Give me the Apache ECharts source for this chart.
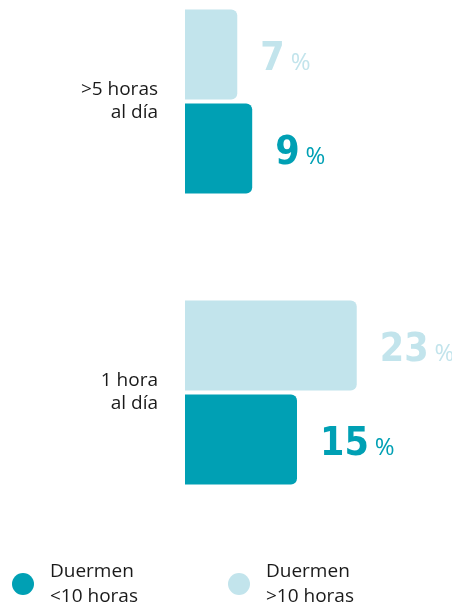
<!DOCTYPE html>
<html><head><meta charset="utf-8">
<script src="https://cdn.jsdelivr.net/npm/echarts@6/dist/echarts.min.js"></script>
<style>html,body{margin:0;padding:0;background:#fff}#c{width:452px;height:609px}</style>
</head><body><div id="c"></div>
<script>
var categories = ['>5 horas\nal día', '1 hora\nal día'];
var seriesNames = ['Duermen\n<10 horas', 'Duermen\n>10 horas'];
var under10 = [9, 15];
var over10 = [7, 23];
var colors = ['#00a0b4', '#c2e4ec'];

var chart = echarts.init(document.getElementById('c'));
function lbl(color){
  return {
    show: true, position: 'right', distance: 23, offset: [0, 3],
    formatter: '{n|{c}}{p|%}',
    rich: {
      n: {fontFamily: 'DejaVu Sans Condensed', fontWeight: 'bold', fontSize: 39, lineHeight: 44, color: color, verticalAlign: 'bottom'},
      p: {fontFamily: 'Open Sans', fontSize: 24, lineHeight: 36, color: color, verticalAlign: 'bottom', padding: [0, 0, 4, 6]}
    }
  };
}
chart.setOption({
  animation: false,
  grid: {left: 185, right: 43, top: -44, height: 582, outerBoundsMode: 'none', containLabel: false},
  xAxis: {type: 'value', min: 0, max: 30, show: false},
  yAxis: {type: 'category', data: categories, inverse: true,
    axisLine: {show: false}, axisTick: {show: false},
    axisLabel: {margin: 27, fontFamily: 'Open Sans', fontSize: 19, lineHeight: 23, color: '#1a1a1a', align: 'right'}},
  legend: [
    {data: [seriesNames[0]], left: 12, top: 559, padding: 0, icon: 'circle', itemWidth: 22, itemHeight: 22,
     textStyle: {fontFamily: 'Open Sans', fontSize: 19, lineHeight: 25, color: '#1a1a1a', padding: [0,0,0,11]}},
    {data: [seriesNames[1]], left: 228, top: 559, padding: 0, icon: 'circle', itemWidth: 22, itemHeight: 22,
     textStyle: {fontFamily: 'Open Sans', fontSize: 19, lineHeight: 25, color: '#1a1a1a', padding: [0,0,0,11]}}
  ],
  series: [
    {name: seriesNames[1], type: 'bar', data: over10, barWidth: 90, barGap: '4.4%',
     itemStyle: {color: colors[1], borderRadius: [0,6,6,0]}, label: lbl(colors[1])},
    {name: seriesNames[0], type: 'bar', data: under10, barWidth: 90, barGap: '4.4%',
     itemStyle: {color: colors[0], borderRadius: [0,6,6,0]}, label: lbl(colors[0])}
  ]
});
</script></body></html>
